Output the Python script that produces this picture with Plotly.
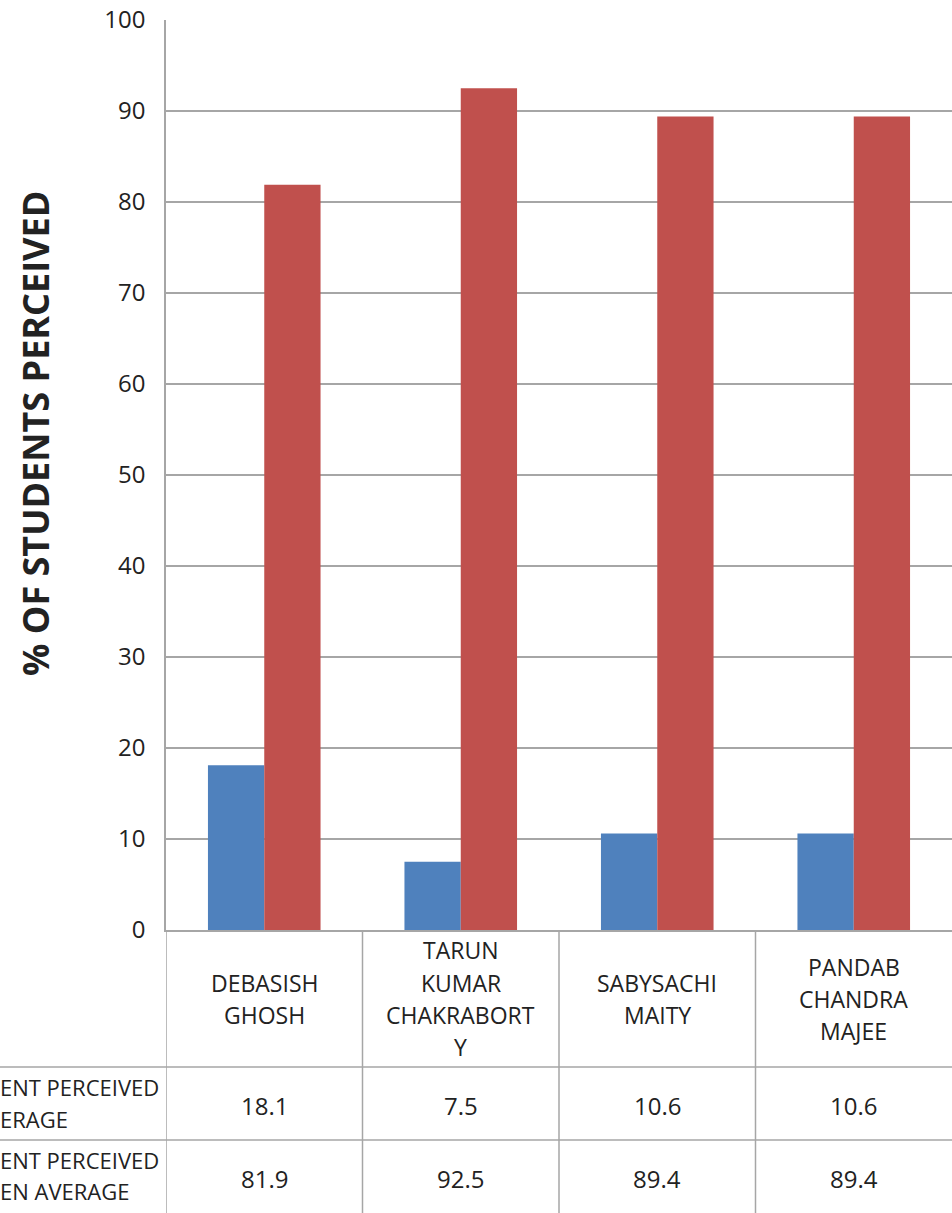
import plotly.graph_objects as go

categories = ["DEBASISH\nGHOSH", "TARUN\nKUMAR\nCHAKRABORT\nY", "SABYSACHI\nMAITY", "PANDAB\nCHANDRA\nMAJEE"]
below_avg = [18.1, 7.5, 10.6, 10.6]
above_avg = [81.9, 92.5, 89.4, 89.4]
row_labels = ["ENT PERCEIVED\nERAGE", "ENT PERCEIVED\nEN AVERAGE"]
y_title = "% OF STUDENTS PERCEIVED"
y_ticks = [0, 10, 20, 30, 40, 50, 60, 70, 80, 90, 100]

W, H = 952, 1213
L, R, T, B = 166, 0, 20, 283
PW = W - L - R
PH = H - T - B

FONT = "Open Sans"
TXT = "#222222"
GRID = "#A6A6A6"

def px_y(py):
    return (H - B - py) / PH

def px_x(px):
    return (px - L) / PW

xcats = list(range(len(categories)))

fig = go.Figure()
fig.add_trace(go.Bar(x=xcats, y=below_avg, marker=dict(color="#4F81BD", line=dict(width=0)), name="below"))
fig.add_trace(go.Bar(x=xcats, y=above_avg, marker=dict(color="#C0504D", line=dict(width=0)), name="above"))

shapes = []
for py in [1067, 1140]:
    shapes.append(dict(type="line", xref="paper", yref="paper", x0=px_x(0), x1=1, y0=px_y(py), y1=px_y(py),
                       line=dict(color=GRID, width=1.5)))
for i in range(len(categories)):
    xb = i - 0.5
    shapes.append(dict(type="line", xref="x", yref="paper", x0=xb, x1=xb, y0=0, y1=px_y(H + 5),
                       line=dict(color=GRID, width=1.5)))

annotations = []
LINE = 32
hdr_center = (930 + 1067) / 2
for i, cat in enumerate(categories):
    lines = cat.split("\n")
    n = len(lines)
    for j, t in enumerate(lines):
        py = hdr_center + (j - (n - 1) / 2) * LINE
        annotations.append(dict(x=i, xref="x", y=px_y(py), yref="paper", text=t, showarrow=False,
                                xanchor="center", yanchor="middle", font=dict(family=FONT, size=23, color=TXT)))

row_centers = [(1067 + 1140) / 2, (1140 + 1213) / 2]
for vals, rc in zip([below_avg, above_avg], row_centers):
    for i, v in enumerate(vals):
        annotations.append(dict(x=i, xref="x", y=px_y(rc + 2), yref="paper", text=f"{v:.1f}", showarrow=False,
                                xanchor="center", yanchor="middle", font=dict(family=FONT, size=24, color=TXT)))

for lab, rc in zip(row_labels, row_centers):
    lines = lab.split("\n")
    n = len(lines)
    for j, t in enumerate(lines):
        py = rc + (j - (n - 1) / 2) * 32 - 1
        annotations.append(dict(x=px_x(-2), xref="paper", y=px_y(py), yref="paper", text=t, showarrow=False,
                                xanchor="left", yanchor="middle", font=dict(family=FONT, size=22, color=TXT)))

annotations.append(dict(x=px_x(35), xref="paper", y=px_y(434), yref="paper", text=f"<b>{y_title}</b>",
                        textangle=-90, showarrow=False, xanchor="center", yanchor="middle",
                        font=dict(family=FONT, size=36, color=TXT)))

fig.update_layout(
    width=W, height=H,
    margin=dict(l=L, r=R, t=T, b=B, pad=0),
    paper_bgcolor="white", plot_bgcolor="white",
    barmode="group", bargap=0.427, bargroupgap=0,
    showlegend=False,
    shapes=shapes,
    annotations=annotations,
    xaxis=dict(range=[-0.5, len(categories) - 0.5], showticklabels=False, showgrid=False,
               showline=True, linecolor=GRID, linewidth=1.5, zeroline=False, ticks=""),
    yaxis=dict(range=[0, 100], tickvals=y_ticks, showgrid=True, gridcolor=GRID, gridwidth=1.5,
               showline=True, linecolor=GRID, linewidth=1.5, zeroline=False, ticks="",
               ticklabelstandoff=14, tickfont=dict(family=FONT, size=24, color=TXT)),
)

fig.write_html("out.html", config={"displayModeBar": False},
               post_script="document.body.style.margin='0';document.body.style.padding='0';")
